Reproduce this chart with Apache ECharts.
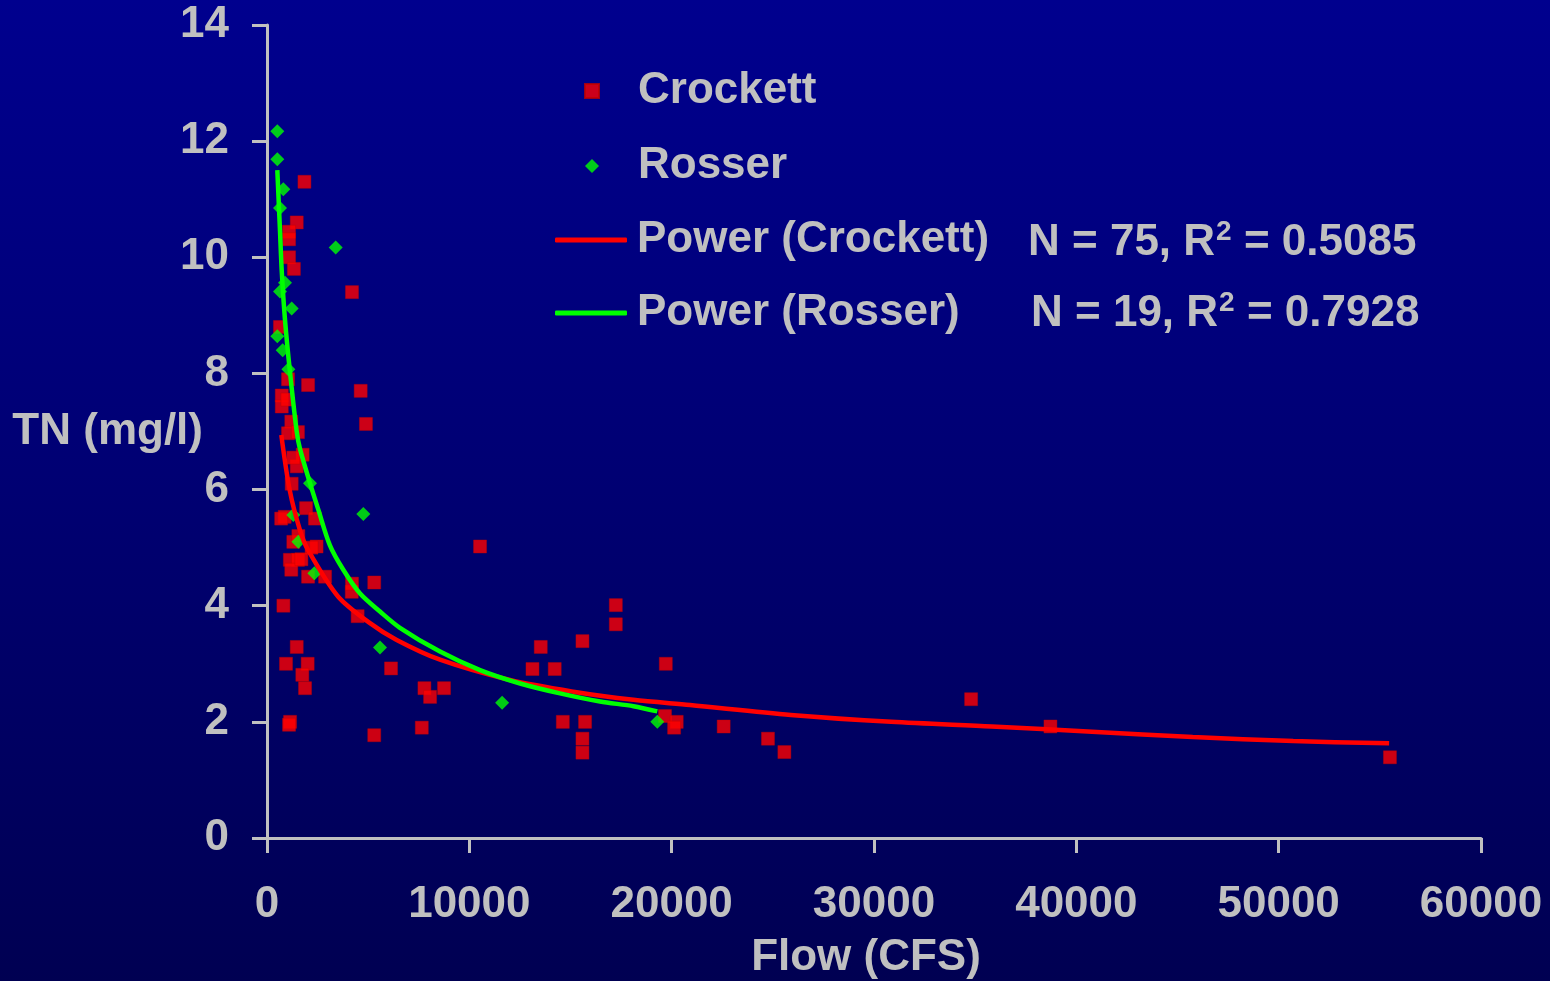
<!DOCTYPE html>
<html>
<head>
<meta charset="utf-8">
<script src="https://cdn.jsdelivr.net/npm/echarts@6/dist/echarts.min.js"></script>
<style>
html,body{margin:0;padding:0;background:#00006e;}
#chart{width:1550px;height:981px;}
</style>
</head>
<body>
<div id="chart"></div>
<script>
// Flow (CFS), TN (mg/l)
var crockett = [
  [1850,11.3],[1470,10.6],[1090,10.44],[1090,10.31],[1090,10.0],[1330,9.8],[4200,9.4],[640,8.8],
  [1040,7.9],[2030,7.8],[4630,7.7],[730,7.62],[730,7.43],[4890,7.13],[1200,7.17],[1040,6.97],
  [1530,6.99],[1760,6.6],[1470,6.4],[1220,6.1],[875,5.53],[700,5.5],[1930,5.68],[2370,5.5],
  [1300,5.1],[2450,5.02],[1130,4.79],[1530,4.79],[1200,4.62],[2030,4.5],[2870,4.5],[4190,4.24],
  [5300,4.4],[4480,3.82],[810,4.0],[1470,3.29],[940,3.0],[2010,3.0],[1745,2.81],[1880,2.58],
  [6130,2.92],[1140,2.0],[1090,1.95],[5300,1.77],[10530,5.02],[17240,4.01],[17240,3.68],[15590,3.39],
  [13530,3.29],[13120,2.91],[14220,2.91],[19710,3.0],[7780,2.58],[8750,2.58],[8060,2.43],[7650,1.9],
  [14620,2.0],[15720,2.0],[15590,1.71],[15590,1.47],[19670,2.1],[20250,2.0],[20120,1.9],[22570,1.92],
  [24760,1.71],[25570,1.48],[34800,2.39],[38720,1.92],[55500,1.39],[4200,4.38],
  [1010,7.55],[1300,6.55],[1550,5.2],[2200,5.0],[1700,4.8]
];
var rosser = [
  [510,12.17],[510,11.69],[806,11.17],[643,10.85],[3395,10.17],[890,9.56],[643,9.41],[1220,9.12],
  [510,8.64],[775,8.4],[1055,8.07],[2125,6.11],[4760,5.58],[1300,5.56],[1550,5.1],[2340,4.56],
  [5585,3.28],[11620,2.33],[19290,2.0]
];
// trend lines
var powerCrockett = [
  [707,6.94],[1122,5.99],[1630,5.30],[2027,4.96],[3510,4.16],[5090,3.70],[6410,3.41],[8550,3.07],
  [12010,2.72],[15140,2.52],[18110,2.38],[20910,2.29],[25890,2.12],[30850,2.0],[35820,1.92],
  [40780,1.83],[45750,1.74],[50720,1.67],[55460,1.63]
];
var powerRosser = [
  [510,11.5],[643,10.45],[726,9.78],[890,8.92],[1137,8.02],[1468,7.0],[1630,6.7],[2125,6.11],
  [2540,5.65],[3110,5.04],[3770,4.62],[4600,4.21],[5585,3.9],[6570,3.62],[8550,3.21],[10530,2.89],
  [12510,2.66],[14480,2.49],[16460,2.35],[18110,2.27],[19290,2.18]
];
var statsCrockett = {n: 75, r2: '0.5085'};
var statsRosser = {n: 19, r2: '0.7928'};

var FONT = '"Liberation Sans", Arial, sans-serif';
var TXT = '#c0c0c0';

var chart = echarts.init(document.getElementById('chart'));
var rich = {
  a: {fontFamily: FONT, fontWeight: 'bold', fontSize: 44, fill: TXT, color: TXT},
  s: {fontFamily: FONT, fontWeight: 'bold', fontSize: 28, fill: TXT, color: TXT, verticalAlign: 'top', padding: [0,0,22,1]}
};
function statText(s) {
  return '{a|N = ' + s.n + ', R}{s|2}{a| = ' + s.r2 + '}';
}
chart.setOption({
  animation: false,
  backgroundColor: {
    type: 'linear', x: 0, y: 0, x2: 0, y2: 1,
    colorStops: [{offset: 0, color: '#00008e'}, {offset: 0.5, color: '#000072'}, {offset: 1, color: '#000052'}]
  },
  textStyle: {fontFamily: FONT},
  grid: {left: 267, right: 69, top: 25, bottom: 143, containLabel: false, outerBoundsMode: 'none'},
  xAxis: {
    type: 'value', min: 0, max: 60000, interval: 10000,
    name: 'Flow (CFS)', nameLocation: 'middle', nameGap: 98, nameMoveOverlap: false,
    nameTextStyle: {color: TXT, fontSize: 44, fontWeight: 'bold', fontFamily: FONT, padding: [0,16,0,0]},
    axisLine: {lineStyle: {color: TXT, width: 3}},
    axisTick: {show: true, inside: false, length: 15, lineStyle: {color: TXT, width: 3}},
    axisLabel: {color: TXT, fontSize: 44, fontWeight: 'bold', fontFamily: FONT, margin: 45,
      formatter: function (v) { return String(v); }},
    splitLine: {show: false}
  },
  yAxis: {
    type: 'value', min: 0, max: 14, interval: 2,
    name: 'TN (mg/l)', nameLocation: 'middle', nameGap: 64, nameRotate: 0, nameMoveOverlap: false,
    nameTextStyle: {color: TXT, fontSize: 44, fontWeight: 'bold', fontFamily: FONT},
    axisLine: {show: true, lineStyle: {color: TXT, width: 3}},
    axisTick: {show: true, inside: false, length: 15, lineStyle: {color: TXT, width: 3}},
    axisLabel: {color: TXT, fontSize: 44, fontWeight: 'bold', fontFamily: FONT, margin: 38,
      formatter: function (v) { return String(v); }},
    splitLine: {show: false}
  },
  legend: [
    {
      data: ['Crockett', 'Rosser'], orient: 'vertical', left: 584, top: 69, padding: 0,
      itemWidth: 14, itemHeight: 14, itemGap: 31, selectedMode: false,
      textStyle: {color: TXT, fontSize: 44, fontWeight: 'bold', fontFamily: FONT, lineHeight: 44, padding: [0,0,0,34]}
    },
    {
      data: [{name: 'Power (Crockett)', icon: 'roundRect'}, {name: 'Power (Rosser)', icon: 'roundRect'}],
      orient: 'vertical', left: 555, top: 218, padding: 0,
      itemWidth: 72, itemHeight: 5, itemGap: 29, selectedMode: false,
      textStyle: {color: TXT, fontSize: 44, fontWeight: 'bold', fontFamily: FONT, lineHeight: 44, padding: [0,0,0,5]}
    }
  ],
  graphic: [
    {type: 'text', left: 1028, top: 218, silent: true,
     style: {text: statText(statsCrockett), rich: rich, fill: TXT, font: 'bold 44px ' + FONT}},
    {type: 'text', left: 1031, top: 289, silent: true,
     style: {text: statText(statsRosser), rich: rich, fill: TXT, font: 'bold 44px ' + FONT}}
  ],
  series: [
    {name: 'Crockett', type: 'scatter', data: crockett, symbol: 'rect', symbolSize: 13,
     itemStyle: {color: '#ff0000', borderColor: '#c00000', borderWidth: 0.5}, z: 2},
    {name: 'Rosser', type: 'scatter', data: rosser, symbol: 'diamond', symbolSize: 14,
     itemStyle: {color: '#00ff00'}, z: 3},
    {name: 'Power (Crockett)', type: 'line', data: powerCrockett, symbol: 'none', showSymbol: false, smooth: 0.3,
     lineStyle: {color: '#ff0000', width: 4.5}, itemStyle: {color: '#ff0000'}, z: 4},
    {name: 'Power (Rosser)', type: 'line', data: powerRosser, symbol: 'none', showSymbol: false, smooth: 0.3,
     lineStyle: {color: '#00ff00', width: 4.5}, itemStyle: {color: '#00ff00'}, z: 5}
  ]
});
</script>
</body>
</html>
